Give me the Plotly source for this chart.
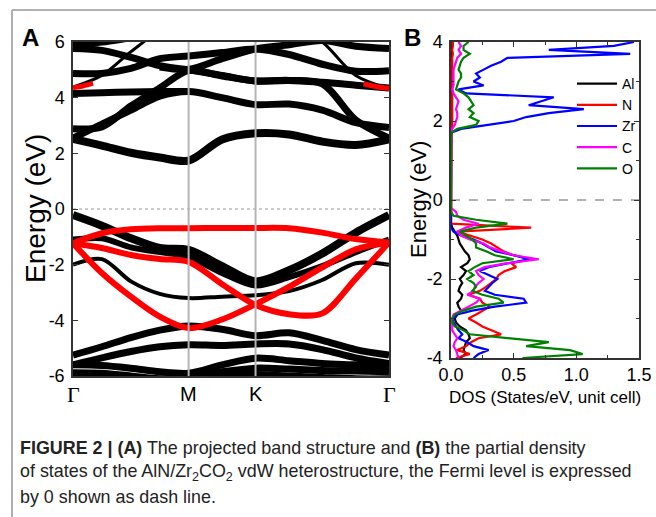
import plotly.graph_objects as go

W, H = 656, 517

# ---------------- Panel A: band structure ----------------
K_PATH = [0.0, 0.144, 0.289, 0.433, 0.577, 0.744, 0.911, 1.078, 1.244, 1.411, 1.577]
K_TICKS = [0.0, 0.577, 0.911, 1.577]
K_LABELS = ["Γ", "M", "K", "Γ"]

# black (non-projected) bands, energies (eV) at K_PATH points
cb1 = [2.52, 2.28, 2.02, 1.85, 1.74, 2.50, 2.72, 2.68, 2.42, 2.30, 2.50]
cb2 = [2.55, 3.05, 3.55, 4.05, 4.22, 4.00, 3.75, 3.77, 3.55, 3.10, 2.93]
cb2b = [4.15, 4.18, 4.20, 4.22, 4.22, None, None, None, None, None, None]
cb3 = [2.88, 2.95, 3.70, 4.35, 4.97, 4.78, 4.60, 4.62, 4.50, 3.20, 2.55]
cb5 = [4.87, 4.87, 5.05, 5.40, 5.50, 5.62, 5.75, 5.55, 5.20, 4.95, 4.97]
cb6 = [5.77, 5.70, 5.45, 5.15, 5.00, 4.80, 4.60, 4.62, 4.55, 4.45, 4.35]
cb7 = [None, None, None, 5.10, 5.02, 5.40, 5.75, 5.90, 6.05, 5.85, 5.77]
cb8 = [5.95, 6.00, 6.15, 6.30, 6.45, 6.50, 6.50, 6.50, 6.40, 6.30, 6.20]
cb9 = [4.38, 4.80, 5.65, 6.40, 6.80, None, None, 6.70, 6.00, 4.80, 4.33]

vb1 = [-0.22, -0.60, -1.05, -1.40, -1.47, -2.05, -2.60, -2.20, -1.60, -0.85, -0.22]
vb2 = [-1.10, -1.05, -1.38, -1.55, -1.72, -2.30, -2.75, -2.45, -2.05, -1.55, -1.10]
vb3 = [-2.00, -1.80, -2.60, -3.05, -3.20, -3.15, -3.10, -2.95, -2.55, -1.95, -2.00]
vb5 = [-5.25, -4.95, -4.62, -4.35, -4.20, -4.32, -4.55, -4.45, -4.72, -5.05, -5.25]
vb6 = [-5.60, -5.35, -5.12, -4.95, -4.88, -4.90, -4.85, -4.85, -5.05, -5.35, -5.55]
vb7 = [-5.60, -5.62, -5.72, -5.85, -5.90, -5.60, -5.36, -5.45, -5.55, -5.60, -5.66]
vb8 = [-5.88, -5.90, -6.00, -6.10, -6.05, -5.85, -5.72, -5.75, -5.80, -5.82, -5.85]
vb9 = [-6.20, -6.20, -6.20, -6.15, -6.00, -6.00, -5.95, -6.00, -6.05, -6.10, -6.10]

# red (projected) bands
r1 = [-1.23, -0.87, -0.73, -0.69, -0.69, -0.68, -0.68, -0.69, -0.85, -1.08, -1.20]
r2 = [-1.23, -2.30, -3.15, -3.87, -4.28, -3.97, -3.42, -2.80, -2.10, -1.45, -1.20]
r3 = [-1.23, -1.40, -1.65, -1.80, -1.90, -2.70, -3.45, -3.78, -3.75, -2.50, -1.20]
red_cb_k = [0.0, 0.05, 0.10, None, 1.45, 1.51, 1.577]
red_cb_e = [4.36, 4.42, 4.52, None, 4.50, 4.40, 4.33]

black_bands = [
    (cb1, 8), (cb2, 7), (cb2b, 7), (cb3, 7), (cb5, 7), (cb6, 7), (cb7, 7), (cb8, 7), (cb9, 3),
    (vb1, 8), (vb2, 6), (vb3, 4), (vb5, 7), (vb6, 7), (vb7, 7), (vb8, 7), (vb9, 7),
]
red_bands = [(r1, 6), (r2, 6), (r3, 6)]

# ---------------- Panel B: PDOS ----------------
E_VB = [-4.0, -3.9, -3.8, -3.7, -3.6, -3.5, -3.4, -3.3, -3.2, -3.1, -3.0, -2.9, -2.8, -2.7,
        -2.6, -2.5, -2.4, -2.3, -2.2, -2.1, -2.0, -1.9, -1.8, -1.7, -1.6, -1.5, -1.4, -1.3,
        -1.2, -1.1, -1.0, -0.9, -0.8, -0.7, -0.6, -0.5, -0.4, -0.3, -0.2]
E_CB = [1.6, 1.7, 1.8, 1.9, 2.0, 2.1, 2.2, 2.3, 2.4, 2.5, 2.6, 2.7, 2.8, 2.9, 3.0, 3.1, 3.2,
        3.3, 3.4, 3.5, 3.6, 3.7, 3.8, 3.9, 4.0]

Al_VB = [0.07, 0.12, 0.10, 0.11, 0.12, 0.15, 0.14, 0.12, 0.07, 0.04, 0.03, 0.05, 0.08, 0.06,
         0.05, 0.08, 0.09, 0.06, 0.07, 0.09, 0.07, 0.10, 0.12, 0.08, 0.13, 0.15, 0.14, 0.11,
         0.09, 0.07, 0.06, 0.05, 0.03, 0.01, 0.0, 0.0, 0.0, 0.0, 0.0]
N_VB = [0.04, 0.15, 0.05, 0.12, 0.16, 0.22, 0.40, 0.32, 0.25, 0.20, 0.14, 0.20, 0.25, 0.31,
        0.25, 0.23, 0.14, 0.23, 0.28, 0.32, 0.36, 0.38, 0.43, 0.52, 0.48, 0.65, 0.50, 0.42,
        0.37, 0.32, 0.25, 0.15, 0.05, 0.64, 0.0, 0.0, 0.0, 0.0, 0.0]
Zr_VB = [0.18, 0.22, 0.30, 0.18, 0.13, 0.06, 0.09, 0.06, 0.04, 0.02, 0.02, 0.05, 0.17, 0.35,
         0.60, 0.58, 0.35, 0.27, 0.30, 0.33, 0.37, 0.30, 0.23, 0.30, 0.45, 0.62, 0.50, 0.36,
         0.30, 0.25, 0.18, 0.08, 0.02, 0.0, 0.0, 0.0, 0.0, 0.0, 0.0]
C_VB = [0.06, 0.05, 0.04, 0.02, 0.03, 0.05, 0.03, 0.01, 0.01, 0.01, 0.01, 0.02, 0.08, 0.15,
        0.20, 0.23, 0.13, 0.18, 0.19, 0.22, 0.26, 0.22, 0.20, 0.27, 0.45, 0.70, 0.50, 0.40,
        0.31, 0.26, 0.15, 0.08, 0.05, 0.12, 0.22, 0.10, 0.05, 0.04, 0.0]
O_VB = [0.57, 1.05, 0.95, 0.60, 0.78, 0.45, 0.15, 0.10, 0.03, 0.01, 0.01, 0.03, 0.10, 0.20,
        0.42, 0.38, 0.25, 0.17, 0.20, 0.18, 0.13, 0.18, 0.14, 0.19, 0.25, 0.50, 0.35, 0.28,
        0.20, 0.20, 0.17, 0.12, 0.07, 0.20, 0.45, 0.20, 0.02, 0.0, 0.0]

Al_CB = [0.0, 0.0, 0.0, 0.005, 0.005, 0.005, 0.005, 0.005, 0.005, 0.005, 0.005, 0.0, 0.0,
         0.005, 0.005, 0.005, 0.005, 0.005, 0.005, 0.005, 0.005, 0.01, 0.005, 0.01, 0.01]
N_CB = [0.0, 0.0, 0.005, 0.01, 0.01, 0.01, 0.01, 0.01, 0.01, 0.01, 0.01, 0.005, 0.005,
        0.01, 0.01, 0.01, 0.01, 0.01, 0.01, 0.01, 0.01, 0.015, 0.01, 0.015, 0.015]
Zr_CB = [0.0, 0.0, 0.08, 0.30, 0.50, 0.60, 0.78, 1.06, 0.62, 0.72, 0.82, 0.12, 0.06, 0.26,
         0.18, 0.23, 0.20, 0.26, 0.32, 0.40, 0.45, 1.43, 0.78, 1.30, 1.46]
C_CB = [0.0, 0.0, 0.01, 0.03, 0.04, 0.05, 0.05, 0.04, 0.05, 0.06, 0.04, 0.02, 0.01, 0.02,
        0.02, 0.02, 0.02, 0.02, 0.03, 0.04, 0.05, 0.08, 0.06, 0.08, 0.06]
O_CB = [0.0, 0.0, 0.05, 0.20, 0.22, 0.15, 0.18, 0.14, 0.18, 0.16, 0.14, 0.10, 0.04, 0.05,
        0.06, 0.08, 0.08, 0.06, 0.07, 0.08, 0.10, 0.15, 0.10, 0.10, 0.14]

SPECIES = ["Al", "N", "Zr", "C", "O"]
SPECIES_COLORS = ["#000000", "#ff0000", "#0000ff", "#ff00ff", "#008000"]
DOS_VB = [Al_VB, N_VB, Zr_VB, C_VB, O_VB]
DOS_CB = [Al_CB, N_CB, Zr_CB, C_CB, O_CB]


def px(x):
    return x / W


def py(y):
    return 1 - y / H


fig = go.Figure()

for vals, wdt in black_bands:
    fig.add_trace(go.Scatter(x=K_PATH, y=vals, mode="lines", xaxis="x", yaxis="y",
                             line=dict(color="black", width=wdt, shape="spline", smoothing=0.9),
                             showlegend=False, hoverinfo="skip", connectgaps=False))
for vals, wdt in red_bands:
    fig.add_trace(go.Scatter(x=K_PATH, y=vals, mode="lines", xaxis="x", yaxis="y",
                             line=dict(color="#ff0000", width=wdt, shape="spline", smoothing=0.9),
                             showlegend=False, hoverinfo="skip"))
fig.add_trace(go.Scatter(x=red_cb_k, y=red_cb_e, mode="lines", xaxis="x", yaxis="y",
                         line=dict(color="#ff0000", width=5, shape="spline"),
                         showlegend=False, hoverinfo="skip", connectgaps=False))

for name, col, vb, cbv in zip(SPECIES, SPECIES_COLORS, DOS_VB, DOS_CB):
    fig.add_trace(go.Scatter(x=vb + cbv, y=E_VB + E_CB, mode="lines", name=name,
                             xaxis="x2", yaxis="y2", line=dict(color=col, width=2.2),
                             hoverinfo="skip"))

FONT = "Liberation Sans, Arial, sans-serif"
axis_common = dict(showline=True, linecolor="#333333", linewidth=1.5, showgrid=False,
                   zeroline=False, mirror="ticks", ticks="inside", ticklen=5, automargin=False,
                   tickcolor="#333333", tickfont=dict(family=FONT, size=18, color="black"))

fig.update_layout(
    width=W, height=H, margin=dict(l=0, r=0, t=0, b=0, autoexpand=False),
    paper_bgcolor="white", plot_bgcolor="white",
    xaxis=dict(domain=[px(73), px(389)], range=[0, 1.577], anchor="y", showline=True,
               mirror=True, linecolor="#333333", linewidth=1.5, showgrid=False, automargin=False,
               zeroline=False, showticklabels=False, ticks=""),
    yaxis=dict(domain=[py(376), py(42)], range=[-6, 6], anchor="x",
               tickvals=[-6, -4, -2, 0, 2, 4, 6],
               ticktext=["-6", "-4", "-2", "0", "2", "4", "6"], ticklabelstandoff=3,
               **axis_common),
    xaxis2=dict(domain=[px(451), px(639)], range=[0, 1.5], anchor="y2",
                tickvals=[0, 0.5, 1.0, 1.5], ticktext=["0.0", "0.5", "1.0", "1.5"],
                minor=dict(tickvals=[0.25, 0.75, 1.25], ticks="inside", ticklen=3,
                           tickcolor="#333333"),
                ticklabelstandoff=0, **axis_common),
    yaxis2=dict(domain=[py(358), py(42)], range=[-4, 4], anchor="x2",
                tickvals=[-4, -2, 0, 2, 4], ticktext=["-4", "-2", "0", "2", "4"],
                minor=dict(tickvals=[-3, -1, 1, 3], ticks="inside", ticklen=3,
                           tickcolor="#333333"),
                ticklabelstandoff=3, **axis_common),
    legend=dict(x=px(572), y=py(68), xanchor="left", yanchor="top",
                bgcolor="rgba(0,0,0,0)", font=dict(family=FONT, size=14, color="black"),
                tracegroupgap=0, itemwidth=40),
    showlegend=True,
)

shapes = []
for kv in K_TICKS[1:3]:
    shapes.append(dict(type="line", xref="x", yref="y domain", x0=kv, x1=kv, y0=0, y1=1,
                       line=dict(color="#b4b4b4", width=2), layer="above"))
shapes.append(dict(type="line", xref="x domain", yref="y", x0=0, x1=1, y0=0, y1=0,
                   line=dict(color="#999999", width=1, dash="dot"), layer="below"))
shapes.append(dict(type="line", xref="x2 domain", yref="y2", x0=0, x1=1, y0=0, y1=0,
                   line=dict(color="#999999", width=1.5, dash="dash"), layer="below"))
# figure frame
shapes.append(dict(type="line", xref="paper", yref="paper", x0=px(12), x1=1, y0=py(10), y1=py(10),
                   line=dict(color="#b0b0b0", width=2)))
shapes.append(dict(type="line", xref="paper", yref="paper", x0=px(12), x1=px(12), y0=py(10), y1=0,
                   line=dict(color="#b0b0b0", width=2)))
fig.update_layout(shapes=shapes)


def note(x, y, text, size, family=FONT, angle=0, xanchor="center"):
    return dict(x=px(x), y=py(y), xref="paper", yref="paper", text=text, textangle=angle,
                showarrow=False, xanchor=xanchor, yanchor="middle",
                font=dict(family=family, size=size, color="black"))


ann = []
for kv, lab in zip(K_TICKS, K_LABELS):
    fam = "Liberation Serif, Times New Roman, serif" if lab == "Γ" else FONT
    ann.append(dict(x=kv, xref="x", y=py(394), yref="paper", text=lab, showarrow=False,
                    xanchor="center", yanchor="middle",
                    font=dict(family=fam, size=22 if lab == "Γ" else 20, color="black")))
ann += [
    note(35, 209, "Energy (eV)", 28, angle=-90),
    note(418, 200, "Energy (eV)", 22, angle=-90),
    note(545, 397, "DOS (States/eV, unit cell)", 17),
    note(30, 37, "<b>A</b>", 24),
    note(412, 38, "<b>B</b>", 24),
]
CAPTION = [
    "<b>FIGURE 2 | (A)</b> The projected band structure and <b>(B)</b> the partial density",
    "of states of the AlN/Zr<sub>2</sub>CO<sub>2</sub> vdW heterostructure, the Fermi level is expressed",
    "by 0 shown as dash line.",
]
for i, line in enumerate(CAPTION):
    a = note(18, 448 + 24.5 * i, line, 17.9, xanchor="left")
    a["font"]["color"] = "#222222"
    ann.append(a)
fig.update_layout(annotations=ann)

fig.write_html("out.html", config={"displayModeBar": False},
               post_script="document.body.style.margin='0px';document.body.style.padding='0px';")
